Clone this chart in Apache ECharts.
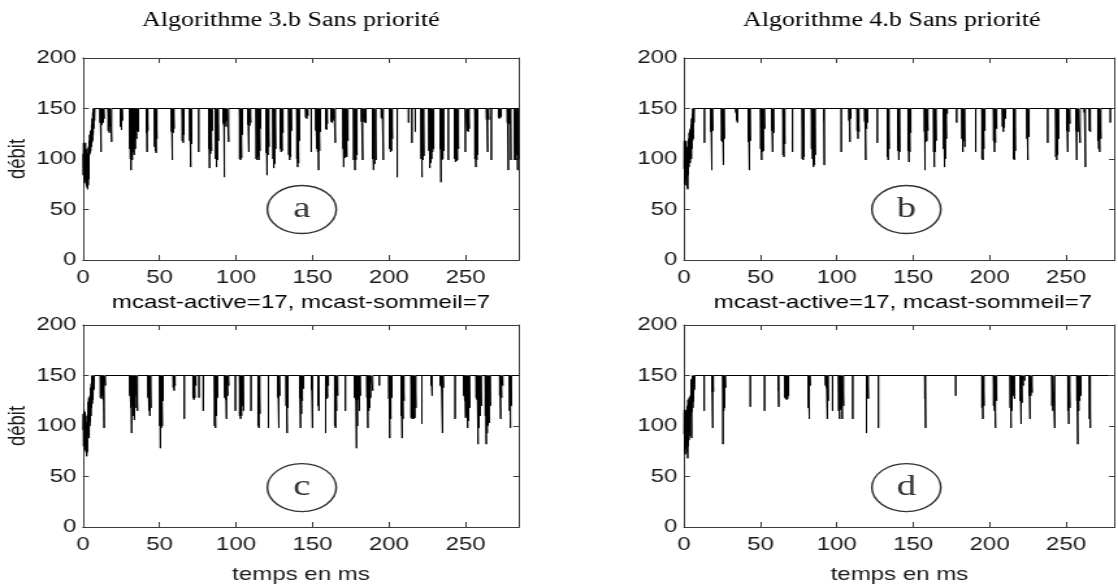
<!DOCTYPE html>
<html>
<head>
<meta charset="utf-8">
<title>débit - mcast</title>
<script src="https://cdn.jsdelivr.net/npm/echarts@6/dist/echarts.min.js"></script>
<style>
  html, body { margin: 0; padding: 0; background: #fff; overflow: hidden; }
  #wrap { width: 1118px; height: 587px; overflow: hidden; }
  /* the figure is laid out at 860px and widened to the page width */
  #chart { width: 860px; height: 587px; transform: scaleX(1.3); transform-origin: 0 0; }
</style>
</head>
<body>
<div id="wrap"><div id="chart"></div></div>
<script>
// ---- texts and ticks -------------------------------------------------------
const topTitles = ['Algorithme 3.b Sans priorité', 'Algorithme 4.b Sans priorité'];
const runLabel = 'mcast-active=17, mcast-sommeil=7';
const xName = 'temps en ms';
const yName = 'débit';
const panelTags = ['a', 'b', 'c', 'd'];
const xTicks = [0, 50, 100, 150, 200, 250];
const yTicks = [0, 50, 100, 150, 200];
const xMax = [285, 282, 285, 282];
const yMax = 200;

// ---- measured throughput ---------------------------------------------------
// nominal rate reached once the network has settled
const CAP = 150;
// last sample time of each run
const dataEnd = [285, 280, 285, 278];

// start-up transient, [time, débit]
const rampA = [[0,105],[0.2,84],[0.4,116],[0.6,80],[0.8,112],[1.0,76],[1.2,108],[1.4,82],[1.6,116],[1.8,78],
  [2.0,104],[2.2,74],[2.4,110],[2.6,72],[2.8,100],[3.0,70],[3.2,106],[3.4,74],[3.6,112],[3.8,80],[4.0,118],
  [4.2,104],[4.4,124],[4.6,106],[4.8,128],[5.0,108],[5.2,126],[5.4,112],[5.6,134],[5.8,116],[6.0,140],
  [6.2,118],[6.4,146],[6.6,124],[6.8,150],[7.0,130],[7.2,150],[7.5,138],[7.8,150],[8.2,150]];
const rampB = [[0,90],[0.2,118],[0.4,76],[0.6,112],[0.8,74],[1.0,116],[1.2,88],[1.4,118],[1.6,80],[1.8,112],
  [2.0,72],[2.2,108],[2.4,70],[2.6,104],[2.8,84],[3.0,120],[3.2,92],[3.4,126],[3.6,100],[3.8,128],[4.0,96],
  [4.2,130],[4.4,104],[4.6,134],[4.8,100],[5.0,140],[5.2,110],[5.4,144],[5.6,118],[5.8,150],[6.0,120],
  [6.2,150],[6.5,136],[6.8,150],[7.2,150]];
const rampC = [[0,96],[0.2,112],[0.4,80],[0.6,116],[0.8,84],[1.0,108],[1.2,76],[1.4,114],[1.6,82],[1.8,110],
  [2.0,74],[2.2,104],[2.4,70],[2.6,100],[2.8,74],[3.0,112],[3.2,90],[3.4,124],[3.6,96],[3.8,128],[4.0,88],
  [4.2,126],[4.4,100],[4.6,130],[4.8,104],[5.0,138],[5.2,110],[5.4,142],[5.6,118],[5.8,150],[6.0,122],
  [6.2,148],[6.5,126],[6.8,150],[7.1,136],[7.4,150],[7.8,150]];
const rampD = [[0,92],[0.2,116],[0.4,76],[0.6,112],[0.8,72],[1.0,114],[1.2,84],[1.4,116],[1.6,78],[1.8,108],
  [2.0,74],[2.2,120],[2.4,68],[2.6,126],[2.8,80],[3.0,122],[3.2,86],[3.4,128],[3.6,96],[3.8,124],[4.0,90],
  [4.2,130],[4.4,110],[4.6,146],[4.8,112],[5.0,88],[5.2,140],[5.4,114],[5.6,150],[5.8,118],[6.0,148],
  [6.2,124],[6.5,150],[6.8,136],[7.1,150],[7.5,150]];

// drops below the nominal rate, [time, débit]
const dipsA = [
  [11.2,136],[11.8,107],[12.4,134],[13.2,136],[13.8,140],
  [16.5,128],[17.2,126],[17.8,132],[18.7,117],
  [24.5,132],[25.2,129],[25.8,138],
  [30.6,110],[31.0,100],[31.4,89],[31.8,104],[32.2,99],[32.6,107],[33.0,110],[33.4,104],[33.8,118],
  [34.2,110],[34.6,128],[35.0,120],[35.6,128],[36.2,127],
  [41.5,126],[41.9,107],[42.4,128],
  [46.8,112],[47.3,108],[47.8,106],[48.3,120],
  [57.8,127],[58.4,99],[59.0,126],[59.5,130],
  [64.9,118],[65.5,116],[66.0,124],
  [69.8,118],[70.4,92],[71.0,115],
  [75.6,107],
  [82.3,110],[82.7,91],[83.3,105],[84.0,108],[84.5,128],
  [86.7,100],[87.3,92],[87.9,99],[88.5,118],
  [91.5,136],[92.0,134],[92.4,82],[93.0,136],[93.6,132],[94.2,138],[95.2,117],
  [102.4,100],[103.0,99],[103.6,101],[104.2,124],
  [107.8,134],[108.4,107],[109.0,133],[109.6,136],
  [113.2,100],[113.8,99],[114.4,102],[115.0,99],[115.6,108],[116.1,130],
  [119.8,106],[120.3,84],[120.9,104],[121.5,112],
  [124.2,100],[124.7,91],[125.3,95],[125.9,110],
  [128.9,110],[129.5,107],[130.1,108],[130.7,126],
  [134.5,104],[135.1,99],[135.7,102],[136.3,128],
  [139.8,100],[140.3,92],[140.9,96],[141.5,118],
  [145.6,141],[146.3,140],[147.0,143],
  [149.2,107],
  [152.2,128],[152.8,110],[153.4,107],[154.0,89],[154.6,108],[155.2,127],
  [158.6,130],[159.2,129],[159.7,135],
  [162.2,137],[162.8,136],[163.4,138],[164.0,140],[164.9,116],
  [170.0,110],[170.4,92],[171.2,101],[171.8,104],[172.4,102],[173.2,118],
  [176.9,99],[177.8,89],[178.4,99],[179.1,104],
  [182.0,137],[182.8,99],[183.6,137],[184.4,136],[185.0,136],
  [189.2,100],[189.9,89],[190.6,95],[191.5,99],
  [195.0,141],[195.6,140],[196.3,99],
  [200.4,110],[201.0,107],[201.6,108],[202.2,120],
  [205.4,82],
  [212.8,136],[215.0,116],[217.2,127],
  [221.0,100],[221.6,82],[222.2,99],[222.8,103],
  [226.1,108],[226.7,91],[227.3,96],[227.9,100],[228.5,107],[229.2,110],
  [233.5,110],[234.0,77],[234.6,99],[235.2,100],[235.8,108],
  [238.8,99],
  [242.9,100],[243.5,97],[244.1,98],[244.7,99],[245.4,110],
  [249.9,107],[251.2,128],[251.8,127],[252.4,130],
  [256.2,100],[256.8,92],[257.4,99],[258.0,104],
  [263.8,139],[264.5,107],[265.2,139],
  [266.9,99],
  [271.6,141],[272.2,140],[272.8,141],[273.4,142],
  [277.4,136],[278.0,89],[278.6,135],[279.2,134],[279.7,99],
  [282.1,100],[282.7,99],[283.3,104],[284.1,89],[284.6,100]
];
const dipsB = [
  [13.4,116],
  [17.6,127],[18.2,89],[18.8,128],
  [24.6,118],[25.2,117],[25.8,94],[26.4,120],
  [34.0,146],[34.6,138],[35.0,136],
  [42.2,117],[42.8,89],[43.4,118],
  [50.2,110],[50.8,99],[51.4,107],[52.0,108],[52.8,130],
  [57.4,128],[58.0,107],[58.8,126],
  [64.8,104],[65.4,102],[66.0,115],
  [71.0,107],
  [77.4,100],[78.0,99],[78.6,102],
  [83.5,110],[84.1,100],[84.7,92],[85.3,94],[85.9,104],
  [91.4,138],[91.8,94],
  [102.9,107],
  [108.0,138],[108.6,117],[109.2,140],
  [113.3,128],[113.9,120],[114.5,127],
  [118.3,137],[118.9,99],[119.5,130],[120.1,136],
  [126.5,116],
  [133.0,102],[133.6,99],[134.2,110],
  [140.0,108],[140.6,99],[141.2,107],
  [146.6,108],[147.2,97],[147.8,107],[148.4,126],
  [157.4,127],[157.7,89],[158.3,117],[158.9,118],[159.6,128],
  [163.4,107],[163.8,92],[164.4,107],[165.0,118],
  [169.9,110],[170.5,92],[171.1,100],[171.7,120],[172.3,145],
  [178.4,136],
  [181.9,120],[182.5,107],[183.1,118],[183.8,112],
  [190.9,107],
  [195.0,100],[195.6,99],[196.2,110],[196.9,128],
  [202.6,118],[203.2,107],[203.8,116],[204.6,130],
  [208.4,132],[209.0,127],[209.6,131],[210.4,140],
  [215.6,100],[216.2,99],[216.8,108],
  [224.4,120],[225.0,99],[225.8,122],
  [238.0,116],
  [243.3,102],[243.9,99],[244.5,104],[245.2,120],
  [250.5,128],[251.1,107],[251.7,127],[252.5,135],
  [256.4,128],[257.0,99],[257.8,127],[259.2,116],
  [262.0,146],[262.7,92],
  [265.3,128],[265.9,127],
  [270.8,118],[271.4,110],[272.0,107],[272.8,120],
  [279.0,136]
];
const dipsC = [
  [11.4,128],[12.0,127],[12.6,130],[13.2,126],[13.8,98],[14.6,140],
  [30.6,130],[31.2,118],[31.8,93],[32.4,120],[33.0,110],[33.6,106],[34.2,118],[34.8,130],[35.6,115],
  [42.5,128],[43.1,115],[43.7,110],[44.4,118],
  [50.2,100],[50.6,78],[51.2,98],[51.8,100],[52.4,125],
  [59.0,138],[59.6,135],[60.2,140],
  [66.2,107],
  [71.9,128],[72.5,126],[73.1,128],[73.8,140],
  [75.8,128],
  [78.6,115],
  [86.0,100],[86.6,98],[87.2,110],[88.0,128],
  [92.6,128],[93.2,126],[93.8,107],[94.6,130],[95.2,140],
  [99.6,115],
  [102.4,110],[103.0,107],[103.6,110],[104.2,120],[104.9,115],
  [109.8,115],
  [114.4,100],[115.0,98],[115.6,112],
  [121.2,98],
  [127.4,128],[128.0,98],[128.6,130],
  [132.8,120],[133.4,93],[134.0,118],
  [141.6,128],[142.2,98],[142.8,112],[143.4,125],[144.2,137],
  [149.4,136],[150.0,98],
  [153.6,120],[154.2,115],
  [158.6,93],[159.2,127],[159.8,128],[160.4,140],
  [164.5,100],[165.1,98],[165.7,115],[166.5,130],
  [171.5,115],
  [177.5,128],[178.2,126],[178.8,78],[179.4,100],[180.0,126],[180.6,115],[181.3,130],
  [185.6,128],[186.2,98],[186.8,115],[187.4,118],[188.0,128],[189.4,135],
  [193.7,140],
  [200.0,127],[200.5,88],[201.2,107],[201.9,128],
  [208.0,110],[208.6,88],[209.2,107],[209.8,125],
  [214.5,108],[215.1,107],[215.7,108],[216.3,107],[216.9,108],[217.6,118],
  [221.5,102],
  [227.6,140],[228.2,130],
  [233.5,140],[234.2,138],[235.0,93],[235.6,138],
  [243.2,107],
  [248.9,130],[249.5,125],[250.1,108],[250.7,110],[251.4,98],[252.0,105],[252.8,118],
  [257.0,128],[257.6,126],[258.2,82],[258.8,98],[259.6,110],[260.4,120],
  [263.0,110],[263.6,82],[264.2,93],[264.8,100],[265.5,103],[266.3,120],
  [272.4,130],[273.0,107],[273.6,128],[274.4,140],
  [278.8,115],[279.4,98],[280.0,120]
];
const dipsD = [
  [13.2,115],
  [18.2,134],[18.8,98],[19.2,134],
  [25.5,82],[26.0,115],[26.6,118],[27.2,138],
  [43.4,119],
  [52.7,115],
  [61.6,135],[62.0,119],
  [66.0,128],[66.6,127],[67.2,126],[67.8,127],[68.4,130],
  [81.4,118],[82.0,107],[82.6,140],
  [92.6,140],[93.2,138],[93.8,107],[94.4,125],
  [97.2,115],
  [101.2,115],[101.8,107],[102.4,116],[103.0,118],[103.6,107],[104.4,120],
  [110.4,107],
  [119.4,93],[120.0,128],[120.6,127],
  [127.2,98],
  [157.6,127],[158.1,98],
  [177.8,130],
  [195.0,118],[195.6,107],[196.3,120],
  [202.6,120],[203.2,115],[203.8,98],[204.6,125],
  [213.5,118],[214.0,98],[214.6,115],[215.4,130],[216.3,127],
  [220.0,125],[220.6,102],[221.2,123],[222.0,140],[223.0,145],
  [225.9,130],[226.4,107],[227.0,130],[227.8,133],
  [240.8,120],[241.4,115],[242.6,98],
  [251.2,115],[251.8,102],[252.5,118],
  [257.1,125],[257.7,82],[258.3,115],[259.0,125],[259.8,130],
  [265.3,107],[265.9,98]
];

// where each panel's tag is written, in axis units
const tagAt = [[143, 50], [145.5, 50], [143, 39], [145.5, 39]];

// ---- build the traces ------------------------------------------------------
// each drop is a sample that leaves the nominal level and returns to it
function trace(ramp, dips, end) {
  const pts = ramp.slice();
  dips.forEach(([t, v]) => { pts.push([t, CAP], [t, v], [t, CAP]); });
  pts.push([end, CAP]);
  return pts;
}
const traces = [
  trace(rampA, dipsA, dataEnd[0]),
  trace(rampB, dipsB, dataEnd[1]),
  trace(rampC, dipsC, dataEnd[2]),
  trace(rampD, dipsD, dataEnd[3])
];

// ---- layout ----------------------------------------------------------------
const SANS = 'Liberation Sans, Arial, Helvetica, sans-serif';
const SERIF = 'Liberation Serif, Times New Roman, serif';
const FS = 18.5;
const frame = { color: '#3a3a3a', width: 1 };
const boxes = [
  { left: 63.85, top: 58, width: 335.4, height: 202 },
  { left: 526.15, top: 58, width: 331.5, height: 202 },
  { left: 63.85, top: 325, width: 335.4, height: 202 },
  { left: 526.15, top: 325, width: 331.5, height: 202 }
];

const grid = [], xAxis = [], yAxis = [], series = [];
boxes.forEach((b, i) => {
  grid.push(Object.assign({ containLabel: false, outerBoundsMode: 'none' }, b));
  // bottom axis with labels, top axis carrying the mirrored ticks
  xAxis.push({
    gridIndex: i, type: 'value', min: 0, max: xMax[i], position: 'bottom',
    axisLine: { show: true, onZero: false, lineStyle: frame },
    axisTick: { show: true, inside: true, length: 5, customValues: xTicks, lineStyle: frame },
    axisLabel: { show: true, customValues: xTicks, margin: 8, fontFamily: SANS, fontSize: FS, color: '#1a1a1a' },
    splitLine: { show: false },
    name: i >= 2 ? xName : '', nameLocation: 'middle', nameGap: 38,
    nameTextStyle: { fontFamily: SANS, fontSize: FS, color: '#1a1a1a' }
  });
  xAxis.push({
    gridIndex: i, type: 'value', min: 0, max: xMax[i], position: 'top',
    axisLine: { show: true, onZero: false, lineStyle: frame },
    axisTick: { show: true, inside: true, length: 5, customValues: xTicks, lineStyle: frame },
    axisLabel: { show: false }, splitLine: { show: false }
  });
  yAxis.push({
    gridIndex: i, type: 'value', min: 0, max: yMax, position: 'left',
    axisLine: { show: true, onZero: false, lineStyle: frame },
    axisTick: { show: true, inside: true, length: 4.5, customValues: yTicks, lineStyle: frame },
    axisLabel: { show: true, customValues: yTicks, margin: 5, fontFamily: SANS, fontSize: FS, color: '#1a1a1a' },
    splitLine: { show: false },
    name: i % 2 === 0 ? yName : '', nameLocation: 'middle', nameRotate: 90, nameGap: 40,
    nameTextStyle: { fontFamily: SANS, fontSize: FS, color: '#1a1a1a' }
  });
  yAxis.push({
    gridIndex: i, type: 'value', min: 0, max: yMax, position: 'right',
    axisLine: { show: true, onZero: false, lineStyle: frame },
    axisTick: { show: true, inside: true, length: 4.5, customValues: yTicks, lineStyle: frame },
    axisLabel: { show: false }, splitLine: { show: false }
  });
  series.push({
    type: 'line', xAxisIndex: 2 * i, yAxisIndex: 2 * i,
    data: traces[i], symbol: 'none', showSymbol: false,
    lineStyle: { color: '#000', width: 1 }, silent: true, z: 2
  });
  series.push({
    type: 'scatter', xAxisIndex: 2 * i, yAxisIndex: 2 * i,
    data: [tagAt[i]], symbol: 'circle', symbolSize: [53, 48],
    itemStyle: { color: 'rgba(0,0,0,0)', borderColor: '#000', borderWidth: 1.4 },
    label: { show: true, position: 'inside', formatter: panelTags[i],
             fontFamily: SERIF, fontSize: 30, color: '#000' },
    silent: true, z: 5
  });
});

const headText = (text, x, y, family, size) => ({
  type: 'text', x: x, y: y, silent: true,
  style: { text: text, fontFamily: family, fontSize: size, fill: '#000',
           textAlign: 'center', textVerticalAlign: 'middle' }
});

const chart = echarts.init(document.getElementById('chart'), null, { renderer: 'canvas' });
chart.setOption({
  animation: false,
  backgroundColor: '#fff',
  grid: grid, xAxis: xAxis, yAxis: yAxis, series: series,
  graphic: [
    headText(topTitles[0], 223.8, 21, SERIF, 20),
    headText(topTitles[1], 686, 21, SERIF, 20),
    headText(runLabel, 231.5, 303, SANS, FS),
    headText(runLabel, 694.6, 303, SANS, FS)
  ]
});
</script>
</body>
</html>
